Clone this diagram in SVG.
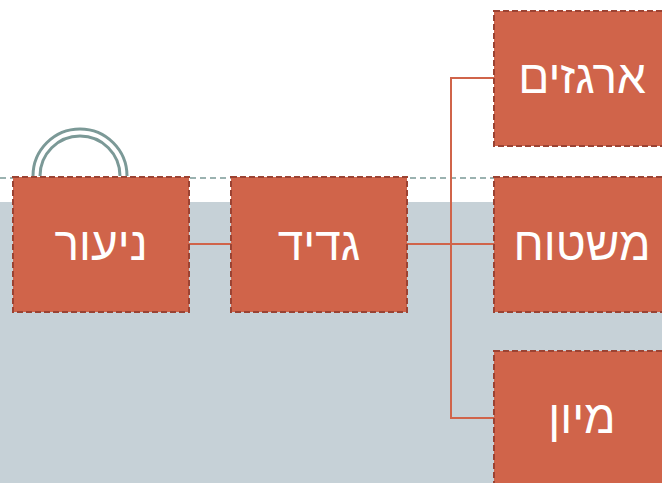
<svg xmlns="http://www.w3.org/2000/svg" width="662" height="483" viewBox="0 0 662 483">
<style>
.node rect{fill:#d0644a;stroke:#9b4333;stroke-width:2;stroke-dasharray:6 3}
.node text{fill:#ffffff;font-family:"Liberation Sans","DejaVu Sans",sans-serif;font-size:46px;text-anchor:middle}
.conn{stroke:#d0644a;stroke-width:2;fill:none}
.handle{stroke:#7b9997;stroke-width:3;fill:none}
</style>
<rect x="0" y="0" width="662" height="483" fill="#ffffff"/>
<rect x="0" y="202" width="662" height="281" fill="#c6d1d7"/>
<line x1="0" y1="178" x2="662" y2="178" stroke="#7b9997" stroke-width="1.5" stroke-dasharray="6 4"/>
<g id="handle">
<path class="handle" d="M33 176 A47 47 0 0 1 127 176"/>
<path class="handle" d="M40 176 A40 40 0 0 1 120 176"/>
</g>
<g id="connectors">
<line class="conn" x1="189" y1="244" x2="231" y2="244"/>
<line class="conn" x1="407" y1="244" x2="494" y2="244"/>
<polyline class="conn" points="494,78 451,78 451,418 494,418"/>
</g>
<g id="n-nior" class="node"><rect x="13" y="177" width="176" height="135"/><text x="101" y="260">ניעור</text></g>
<g id="n-gadid" class="node"><rect x="231" y="177" width="176" height="135"/><text x="319" y="260">גדיד</text></g>
<g id="n-argazim" class="node"><rect x="494" y="11" width="176" height="135"/><text x="582" y="93">ארגזים</text></g>
<g id="n-mishtuah" class="node"><rect x="494" y="177" width="176" height="135"/><text x="582" y="260">משטוח</text></g>
<g id="n-miyun" class="node"><rect x="494" y="351" width="176" height="135"/><text x="582" y="433">מיון</text></g>
</svg>
